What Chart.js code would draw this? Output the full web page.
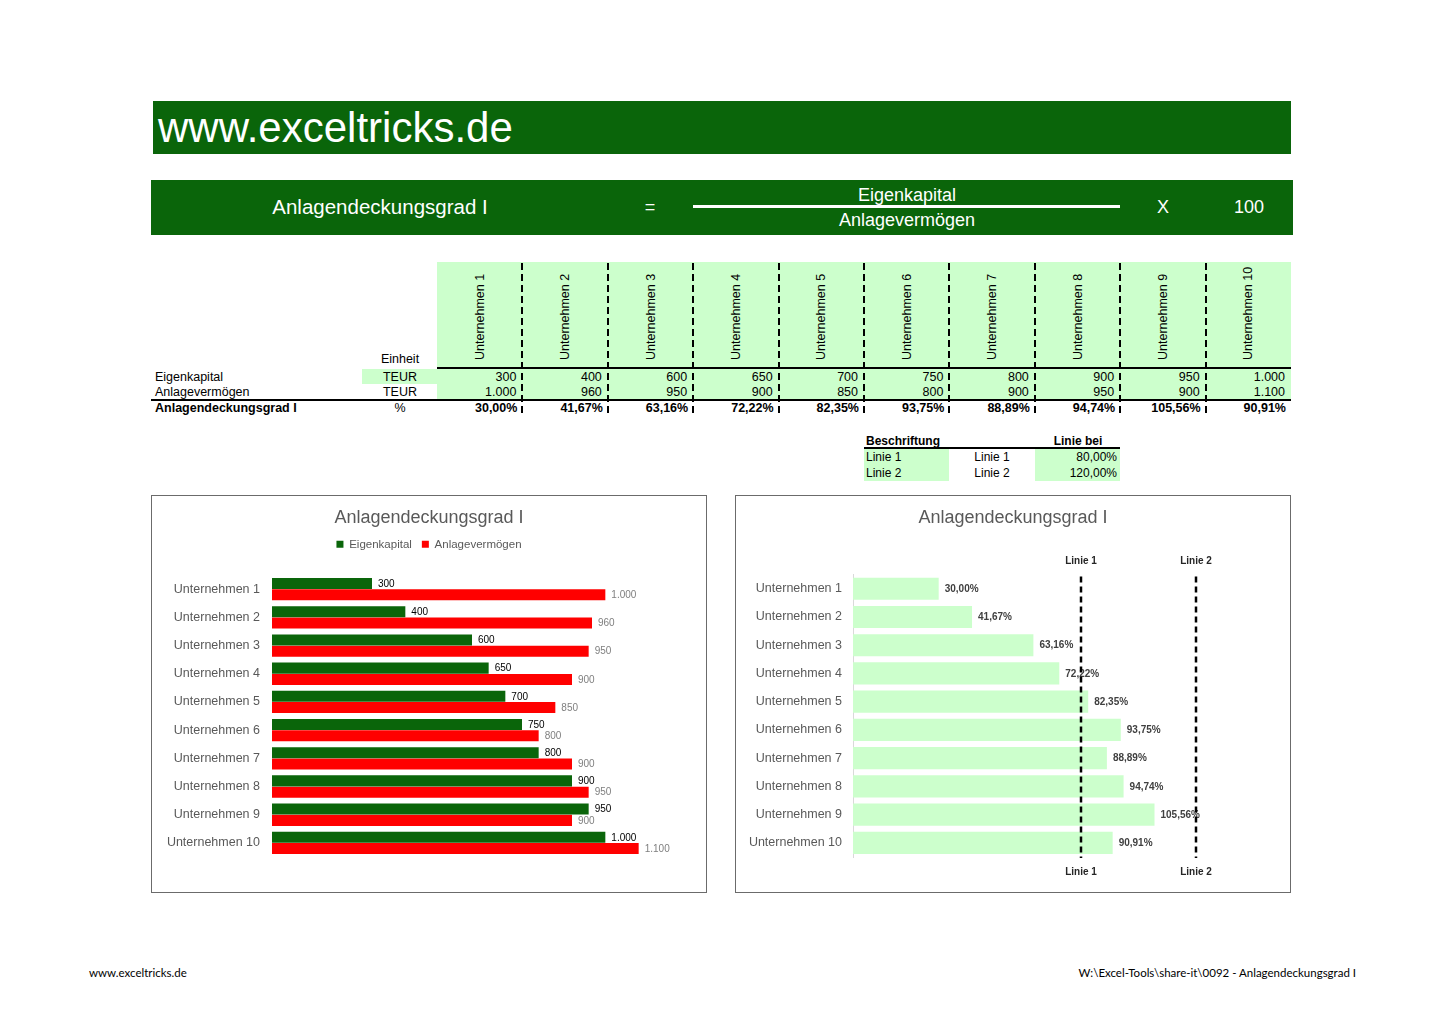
<!DOCTYPE html>
<html>
<head>
<meta charset="utf-8">
<script src="https://cdn.jsdelivr.net/npm/chart.js@4"></script>
<style>
  body { margin: 0; background: #fff; }
  #page { position: relative; width: 1445px; height: 1021px; overflow: hidden; font-family: "Liberation Sans", Arial, sans-serif; }
  .abs { position: absolute; }
  .box { position: absolute; border: 1px solid #6b6b6b; background: #fff; }
</style>
</head>
<body>
<div id="page">
  <div class="box" style="left:151px; top:495px; width:554px; height:396px;">
    <div style="position:relative; width:554px; height:396px;"><canvas id="chart1"></canvas></div>
  </div>
  <div class="box" style="left:735px; top:495px; width:554px; height:396px;">
    <div style="position:relative; width:554px; height:396px;"><canvas id="chart2"></canvas></div>
  </div>
</div>
<script>
const companies = ["Unternehmen 1", "Unternehmen 2", "Unternehmen 3", "Unternehmen 4", "Unternehmen 5",
                   "Unternehmen 6", "Unternehmen 7", "Unternehmen 8", "Unternehmen 9", "Unternehmen 10"];
const eigenkapital = [300, 400, 600, 650, 700, 750, 800, 900, 950, 1000];
const anlagevermoegen = [1000, 960, 950, 900, 850, 800, 900, 950, 900, 1100];
const deckungsgrad = [30.00, 41.67, 63.16, 72.22, 82.35, 93.75, 88.89, 94.74, 105.56, 90.91];
const lineNames = ["Linie 1", "Linie 2"];
const lineValues = [80, 120];

const green = "#0a650a";
const light = "#ccffcc";
const page = document.getElementById("page");
const FONT = '"Liberation Sans", Arial, sans-serif';

function fmtInt(v) { return String(v).replace(/\B(?=(\d{3})+(?!\d))/g, "."); }
function fmtPct(v) { return v.toFixed(2).replace(".", ",") + "%"; }

function rect(x, y, w, h, bg) {
    const d = document.createElement("div");
    d.className = "abs";
    d.style.cssText += `left:${x}px;top:${y}px;width:${w}px;height:${h}px;background:${bg};`;
    page.appendChild(d);
    return d;
}

// text anchored at (x, y) = vertical middle, align left/center/right
function put(text, x, y, o) {
    o = o || {};
    const d = document.createElement("div");
    d.className = "abs";
    d.textContent = text;
    d.style.whiteSpace = "nowrap";
    d.style.lineHeight = "1";
    d.style.font = (o.bold ? "bold " : "") + (o.size || 12.5) + "px " + (o.family || FONT);
    d.style.color = o.color || "#000";
    d.style.left = x + "px";
    d.style.top = y + "px";
    const tx = o.align === "center" ? "-50%" : o.align === "right" ? "-100%" : "0";
    d.style.transform = `translate(${tx}, -50%)`;
    page.appendChild(d);
    return d;
}

// header bars
rect(153, 101, 1138, 53, green);
put("www.exceltricks.de", 158, 128, {size: 42, color: "#fff"});

rect(151, 180, 1142, 55, green);
put("Anlagendeckungsgrad I", 380, 207, {size: 20.5, color: "#fff", align: "center"});
put("=", 650, 207, {size: 18, color: "#fff", align: "center"});
put("Eigenkapital", 907, 195, {size: 18, color: "#fff", align: "center"});
rect(693, 205, 427, 3, "#fff");
put("Anlagevermögen", 907, 220, {size: 18, color: "#fff", align: "center"});
put("X", 1163, 207, {size: 18, color: "#fff", align: "center"});
put("100", 1249, 207, {size: 18, color: "#fff", align: "center"});

// data table
const colX0 = 437, colW = 85.4;
rect(colX0, 262, colW * 10, 106, light);
rect(colX0, 368, colW * 10, 31, light);
rect(362, 369, 75, 15, light);
rect(colX0, 367, colW * 10, 2, "#000");
rect(151, 399, 1140, 2, "#000");

put("Einheit", 400, 359, {align: "center"});
put("Eigenkapital", 155, 377);
put("TEUR", 400, 377, {align: "center"});
put("Anlagevermögen", 155, 392);
put("TEUR", 400, 392, {align: "center"});
put("Anlagendeckungsgrad I", 155, 408, {bold: true});
put("%", 400, 408, {align: "center"});

const dashBg = "repeating-linear-gradient(to bottom, #000 0 7px, transparent 7px 11px)";
companies.forEach((name, i) => {
    const left = colX0 + i * colW;
    const right = left + colW;
    const h = document.createElement("div");
    h.className = "abs";
    h.textContent = name;
    h.style.cssText += `left:${left + colW / 2}px;top:360px;white-space:nowrap;line-height:1;font:12.5px ${FONT};transform-origin:0 0;transform:rotate(-90deg) translate(0,-50%);`;
    page.appendChild(h);
    put(fmtInt(eigenkapital[i]), right - 6, 377, {align: "right"});
    put(fmtInt(anlagevermoegen[i]), right - 6, 392, {align: "right"});
    put(fmtPct(deckungsgrad[i]), right - 5, 408, {align: "right", bold: true});
    if (i < companies.length - 1) {
        rect(Math.round(right) - 1, 263, 2, 152, dashBg);
    }
});

// line settings table
rect(864, 449, 85, 32, light);
rect(1035, 449, 85, 32, light);
rect(864, 447, 256, 2, "#000");
put("Beschriftung", 866, 441, {bold: true, size: 12});
put("Linie bei", 1078, 441, {bold: true, size: 12, align: "center"});
lineNames.forEach((n, i) => {
    const y = 457 + i * 16;
    put(n, 866, y, {size: 12});
    put(n, 992, y, {size: 12, align: "center"});
    put(fmtPct(lineValues[i]), 1117, y, {size: 12, align: "right"});
});

// footer
put("www.exceltricks.de", 89, 972, {size: 11.5, family: "Lato, sans-serif"});
put("W:\\Excel-Tools\\share-it\\0092 - Anlagendeckungsgrad I", 1356, 972, {size: 11.5, family: "Lato, sans-serif", align: "right"});

// charts
Chart.defaults.font.family = FONT;

const barLabels = {
    id: "barLabels",
    afterDatasetsDraw(chart) {
        const ctx = chart.ctx;
        chart.data.datasets.forEach((ds, i) => {
            const meta = chart.getDatasetMeta(i);
            ctx.save();
            ctx.font = ds.labelFont;
            ctx.fillStyle = ds.labelColor;
            ctx.textAlign = "left";
            ctx.textBaseline = "middle";
            meta.data.forEach((bar, j) => {
                const v = ds.data[j];
                const t = ds.labelType === "pct" ? fmtPct(v) : fmtInt(v);
                ctx.fillText(t, bar.x + 6, bar.y + 0.5);
            });
            ctx.restore();
        });
    }
};

const limitLines = {
    id: "limitLines",
    afterDatasetsDraw(chart) {
        const ctx = chart.ctx;
        const area = chart.chartArea;
        const x = chart.scales.x;
        lineValues.forEach((v, i) => {
            const px = Math.round(x.getPixelForValue(v));
            ctx.save();
            ctx.strokeStyle = "#000";
            ctx.lineWidth = 2.5;
            ctx.setLineDash([6, 4]);
            ctx.beginPath();
            ctx.moveTo(px, area.top + 2);
            ctx.lineTo(px, area.bottom + 1);
            ctx.stroke();
            ctx.fillStyle = "#262626";
            ctx.font = "bold 10px " + FONT;
            ctx.textAlign = "center";
            ctx.textBaseline = "middle";
            ctx.fillText(lineNames[i], px, area.top - 13);
            ctx.fillText(lineNames[i], px, area.bottom + 15);
            ctx.restore();
        });
    }
};

new Chart(document.getElementById("chart1"), {
    type: "bar",
    data: {
        labels: companies,
        datasets: [{
            label: "Eigenkapital",
            data: eigenkapital,
            backgroundColor: green,
            categoryPercentage: 0.8,
            barPercentage: 0.98,
            labelFont: "10px " + FONT,
            labelColor: "#000"
        }, {
            label: "Anlagevermögen",
            data: anlagevermoegen,
            backgroundColor: "#ff0000",
            categoryPercentage: 0.8,
            barPercentage: 0.98,
            labelFont: "10px " + FONT,
            labelColor: "#7f7f7f"
        }]
    },
    options: {
        indexAxis: "y",
        responsive: true,
        maintainAspectRatio: false,
        animation: false,
        layout: { padding: { left: 0, right: 0, top: 1, bottom: 35 } },
        plugins: {
            title: { display: true, text: "Anlagendeckungsgrad I", color: "#595959",
                     font: { size: 18, weight: "normal" }, padding: { top: 10, bottom: 0 } },
            legend: { labels: { boxWidth: 7, boxHeight: 7, color: "#595959", font: { size: 11.5 }, padding: 10 } },
            tooltip: { enabled: false }
        },
        scales: {
            x: { position: "top", min: 0, max: 1302, ticks: { display: false },
                 grid: { display: false, drawTicks: false }, border: { display: false },
                 afterFit: s => { s.height = 15; } },
            y: { grid: { display: false, drawTicks: false }, border: { display: false },
                 ticks: { color: "#595959", font: { size: 12.5 }, padding: 12 },
                 afterFit: s => { s.width = 120; } }
        }
    },
    plugins: [barLabels]
});

new Chart(document.getElementById("chart2"), {
    type: "bar",
    data: {
        labels: companies,
        datasets: [{
            label: "Anlagendeckungsgrad I",
            data: deckungsgrad,
            backgroundColor: light,
            categoryPercentage: 0.8,
            barPercentage: 0.98,
            labelFont: "bold 10px " + FONT,
            labelColor: "#404040",
            labelType: "pct"
        }]
    },
    options: {
        indexAxis: "y",
        responsive: true,
        maintainAspectRatio: false,
        animation: false,
        layout: { padding: { left: 0, right: 0, top: 1, bottom: 35 } },
        plugins: {
            title: { display: true, text: "Anlagendeckungsgrad I", color: "#595959",
                     font: { size: 18, weight: "normal" }, padding: { top: 10, bottom: 46 } },
            legend: { display: false },
            tooltip: { enabled: false }
        },
        scales: {
            x: { display: false, min: 0, max: 153 },
            y: { grid: { display: false, drawTicks: false }, border: { display: true, color: "#d9d9d9" },
                 ticks: { color: "#595959", font: { size: 12.5 }, padding: 11 },
                 afterFit: s => { s.width = 117; } }
        }
    },
    plugins: [barLabels, limitLines]
});
</script>
</body>
</html>
